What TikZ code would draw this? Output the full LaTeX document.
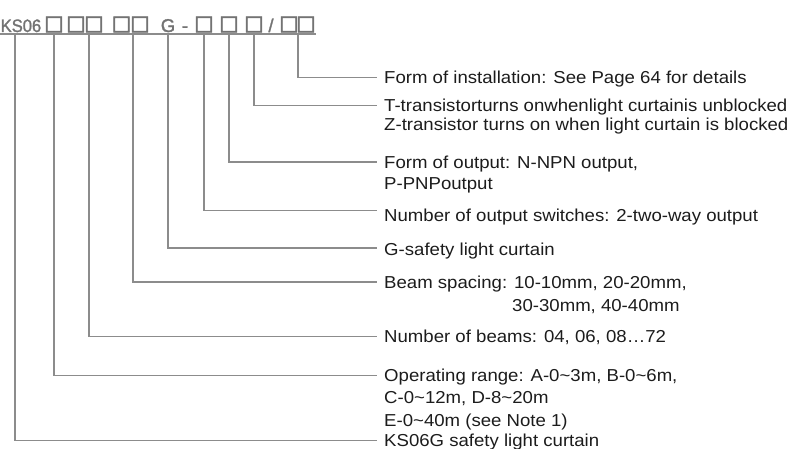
\documentclass[tikz,border=0pt]{standalone}
\usepackage{fontspec}
\setmainfont{Liberation Sans}
\newfontfamily\lblfont{Liberation Sans}[FakeStretch=1.075]
\newfontfamily\hdrfont{Liberation Sans}[FakeBold=1.5]
\newfontfamily\ksfont{Liberation Sans}[FakeBold=1.5,FakeStretch=0.92]
\newfontfamily\sqfont{DejaVu Sans}[FakeBold=2]
\definecolor{txt}{RGB}{28,28,28}
\definecolor{ln}{RGB}{140,140,140}
\definecolor{hd}{RGB}{115,115,115}
\begin{document}
\begin{tikzpicture}[x=1pt,y=-1pt,
  lbl/.style={anchor=west,inner sep=0pt,text height=12.4pt,text depth=0pt,
    font=\lblfont\fontsize{17.3}{19}\selectfont,text=txt},
  conn/.style={draw=ln,line width=1.8pt},
  hdr/.style={inner sep=0pt,text=hd,font=\hdrfont\fontsize{18.5}{20}\selectfont},
  sq/.style={inner sep=0pt,text=hd,font=\sqfont\fontsize{20.5}{22}\selectfont}]
\useasboundingbox (0,0) rectangle (795,449);

% header
\node[hdr,anchor=base west,font=\ksfont\fontsize{18}{20}\selectfont] (ks) at (0.5,32) {KS06};
\foreach \n/\x in {b1/54,b2/76,b3/94,b4/121.5,b5/140,b6/204,b7/229,b8/254,b9/289,b10/306}
  \node[sq] (\n) at (\x,24.5) {□};
\node[hdr,anchor=base] (g) at (168,32) {G};
\node[hdr,anchor=base] (dash) at (185,32) {-};
\node[hdr,anchor=base] (slash) at (271,32) {/};
\coordinate (u0) at (0,34);
\coordinate (u1) at (316,34);
\draw[conn,line width=1.5pt] (u0) -- (u1);

% labels
\node[lbl] (L1) at (384,77.5) {Form of installation: See Page 64 for details};
\node[lbl] (L2) at (384,105.5) {T-transistorturns onwhenlight curtainis unblocked};
\node[lbl] (L2b) at (384,124.5) {Z-transistor turns on when light curtain is blocked};
\node[lbl] (L3) at (384,162) {Form of output: N-NPN output,};
\node[lbl] (L3b) at (384,183.5) {P-PNPoutput};
\node[lbl] (L4) at (384,215) {Number of output switches: 2-two-way output};
\node[lbl] (L5) at (384,249) {G-safety light curtain};
\node[lbl] (L6) at (384,282) {Beam spacing: 10-10mm, 20-20mm,};
\node[lbl] (L6b) at (512,305) {30-30mm, 40-40mm};
\node[lbl] (L7) at (384,336.5) {Number of beams: 04, 06, 08…72};
\node[lbl] (L8) at (384,375.5) {Operating range: A-0\textasciitilde3m, B-0\textasciitilde6m,};
\node[lbl] (L8b) at (384,397.5) {C-0\textasciitilde12m, D-8\textasciitilde20m};
\node[lbl] (L8c) at (384,420) {E-0\textasciitilde40m (see Note 1)};
\node[lbl] (L9) at (384,440.5) {KS06G safety light curtain};

% tick points on the underline
\coordinate (t1) at (298,34);
\coordinate (t2) at (254,34);
\coordinate (t3) at (229,34);
\coordinate (t4) at (204,34);
\coordinate (t5) at (168,34);
\coordinate (t6) at (133,34);
\coordinate (t7) at (89,34);
\coordinate (t8) at (54,34);
\coordinate (t9) at (15,34);

\draw[conn] (t1) |- ([xshift=-7pt]L1.west);
\draw[conn] (t2) |- ([xshift=-7pt]L2.west);
\draw[conn] (t3) |- ([xshift=-7pt]L3.west);
\draw[conn] (t4) |- ([shift={(-7pt,4.5pt)}]L4.west);
\draw[conn] (t5) |- ([shift={(-7pt,1pt)}]L5.west);
\draw[conn] (t6) |- ([xshift=-7pt]L6.west);
\draw[conn] (t7) |- ([xshift=-7pt]L7.west);
\draw[conn] (t8) |- ([xshift=-7pt]L8.west);
\draw[conn] (t9) |- ([xshift=-7pt]L9.west);
\end{tikzpicture}
\end{document}
